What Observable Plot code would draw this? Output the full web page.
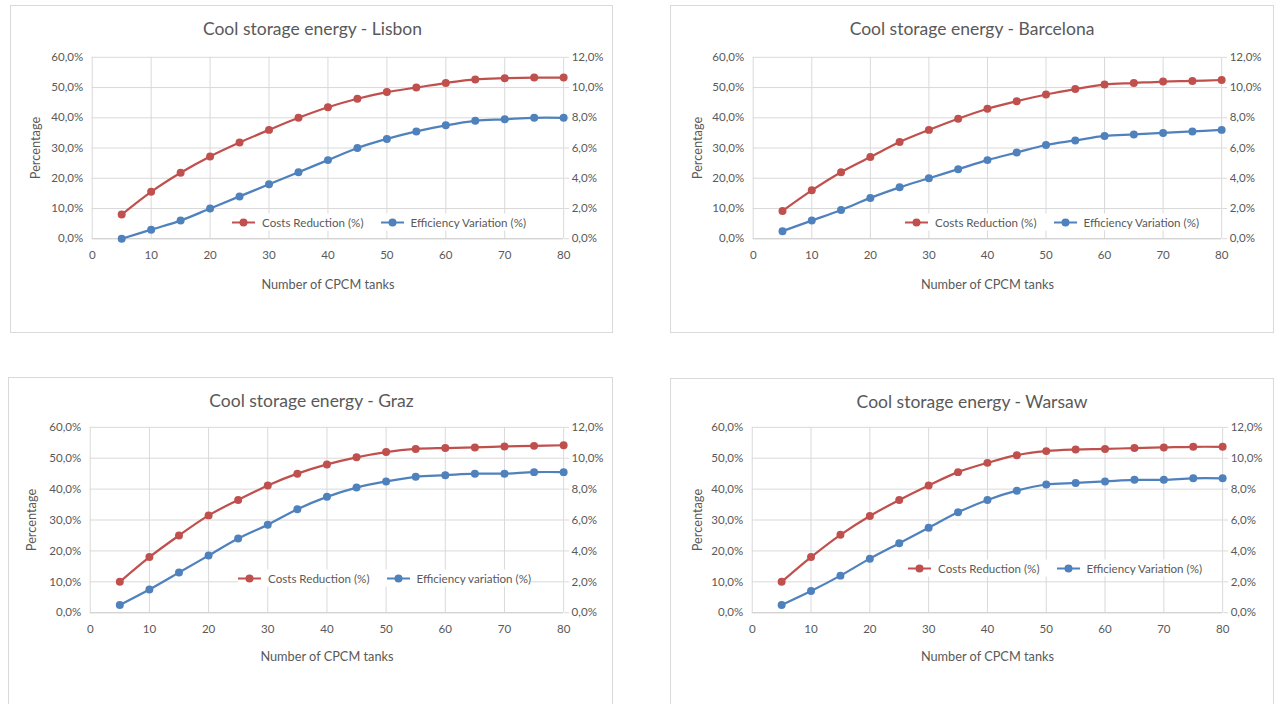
<!DOCTYPE html>
<html>
<head>
<meta charset="utf-8">
<script src="https://cdn.jsdelivr.net/npm/d3@7"></script>
<script src="https://cdn.jsdelivr.net/npm/@observablehq/plot@0.6"></script>
<style>
  body { margin: 0; background: #fff; font-family: Lato, "Open Sans", sans-serif; }
  #root { position: relative; width: 1275px; height: 704px; overflow: hidden; background: #fff; }
  .panel { position: absolute; border: 1px solid #d9d9d9; box-sizing: border-box; background: #fff; }
  .panel svg { position: absolute; left: -1px; top: -1px; overflow: visible; }
  .title { position: absolute; font-size: 17.5px; color: #595959; white-space: nowrap; transform: translate(-50%, -50%); }
  .legend { position: absolute; display: flex; align-items: center; background: #fff; transform: translateY(-50%);
            font-size: 11.6px; color: #595959; white-space: nowrap; padding: 2px 0; }
  .legend .item { display: flex; align-items: center; margin-right: 17px; }
  .legend .item:last-child { margin-right: 0; }
  .legend svg { margin-right: 7px; }
</style>
</head>
<body>
<div id="root"></div>
<script>
// ---- data ----
const tanks = [5, 10, 15, 20, 25, 30, 35, 40, 45, 50, 55, 60, 65, 70, 75, 80];
const xTicks = [0, 10, 20, 30, 40, 50, 60, 70, 80];
const yTicksLeft = [0, 10, 20, 30, 40, 50, 60];        // Percentage (%) left axis
const yTicksRight = [0, 2, 4, 6, 8, 10, 12];           // Efficiency (%) right axis

const lisbonCost = [8.0, 15.5, 21.8, 27.2, 31.8, 36.0, 40.0, 43.5, 46.3, 48.5, 50.0, 51.5, 52.7, 53.1, 53.3, 53.3];
const lisbonEff  = [0.0, 0.6, 1.2, 2.0, 2.8, 3.6, 4.4, 5.2, 6.0, 6.6, 7.1, 7.5, 7.8, 7.9, 8.0, 8.0];

const barcelonaCost = [9.2, 16.0, 22.0, 27.0, 32.0, 36.0, 39.7, 43.0, 45.5, 47.7, 49.5, 51.0, 51.5, 52.0, 52.2, 52.5];
const barcelonaEff  = [0.5, 1.2, 1.9, 2.7, 3.4, 4.0, 4.6, 5.2, 5.7, 6.2, 6.5, 6.8, 6.9, 7.0, 7.1, 7.2];

const grazCost = [10.0, 18.0, 25.0, 31.5, 36.5, 41.2, 45.0, 48.0, 50.3, 52.0, 53.0, 53.3, 53.5, 53.8, 54.0, 54.2];
const grazEff  = [0.5, 1.5, 2.6, 3.7, 4.8, 5.7, 6.7, 7.5, 8.1, 8.5, 8.8, 8.9, 9.0, 9.0, 9.1, 9.1];

const warsawCost = [10.0, 18.0, 25.2, 31.3, 36.5, 41.2, 45.5, 48.5, 51.0, 52.3, 52.8, 53.0, 53.3, 53.5, 53.7, 53.7];
const warsawEff  = [0.5, 1.4, 2.4, 3.5, 4.5, 5.5, 6.5, 7.3, 7.9, 8.3, 8.4, 8.5, 8.6, 8.6, 8.7, 8.7];

const costLabel = "Costs Reduction (%)";
const effLabels = ["Efficiency Variation (%)", "Efficiency Variation (%)", "Efficiency variation (%)", "Efficiency Variation (%)"];
const cities = ["Lisbon", "Barcelona", "Graz", "Warsaw"];
const xLabel = "Number of CPCM tanks";
const yLabel = "Percentage";

// ---- layout (not data) ----
const RED = "#c0504d", BLUE = "#4f81bd", GRID = "#d9d9d9", TEXT = "#595959";
const RATIO = 5; // right axis (0–12%) mapped onto left axis (0–60%)

const panels = [
  { cost: lisbonCost, eff: lisbonEff, left: 10, top: 5, w: 603, h: 328, ml: 82, mr: 48, mt: 52, mb: 94, yl: -57, xl: 50, legX: 232, legY: 222 },
  { cost: barcelonaCost, eff: barcelonaEff, left: 670, top: 5, w: 604, h: 328, ml: 83, mr: 51, mt: 52, mb: 94, yl: -56, xl: 50, legX: 905, legY: 222 },
  { cost: grazCost, eff: grazEff, left: 8, top: 377, w: 605, h: 332, ml: 82, mr: 48, mt: 50, mb: 96, yl: -59, xl: 48, legX: 238, legY: 578 },
  { cost: warsawCost, eff: warsawEff, left: 670, top: 378, w: 604, h: 331, ml: 82, mr: 50, mt: 49, mb: 96, yl: -55, xl: 48, legX: 908, legY: 568 }
];

const fmt = v => v.toFixed(1).replace(".", ",") + "%";

function legendSwatch(color) {
  return `<svg width="23" height="10"><line x1="0" y1="5" x2="23" y2="5" stroke="${color}" stroke-width="2"/><circle cx="11.5" cy="5" r="4" fill="${color}"/></svg>`;
}

const root = document.getElementById("root");

panels.forEach((p, k) => {
  const rows = tanks.map((t, i) => ({ t, cost: p.cost[i], eff: p.eff[i] }));
  const div = document.createElement("div");
  div.className = "panel";
  Object.assign(div.style, { left: p.left + "px", top: p.top + "px", width: p.w + "px", height: p.h + "px" });

  const chart = Plot.plot({
    width: p.w, height: p.h,
    marginLeft: p.ml, marginRight: p.mr, marginTop: p.mt, marginBottom: p.mb,
    style: { fontFamily: "Lato, 'Open Sans', sans-serif", fontSize: "11.6px", color: TEXT, background: "transparent" },
    x: { domain: [0, 80] },
    y: { domain: [0, 60] },
    marks: [
      Plot.gridX(xTicks, { stroke: GRID, strokeOpacity: 1, strokeWidth: 1 }),
      Plot.gridY(yTicksLeft, { stroke: GRID, strokeOpacity: 1, strokeWidth: 1 }),
      Plot.ruleY([0], { stroke: "#cfcfcf", strokeWidth: 1 }),
      Plot.axisX(xTicks, { tickSize: 0, tickPadding: 12, tickFormat: d => String(d), fill: TEXT, label: null }),
      Plot.axisY(yTicksLeft, { anchor: "left", tickSize: 0, tickPadding: 9, tickFormat: fmt, fill: TEXT, label: null }),
      Plot.axisY(yTicksRight.map(v => v * RATIO), { anchor: "right", tickSize: 5, tickPadding: 3, stroke: GRID, fill: TEXT,
        tickFormat: d => fmt(d / RATIO), label: null }),
      Plot.text([xLabel], { frameAnchor: "bottom", dy: p.xl, fill: TEXT, fontSize: 12.8 }),
      Plot.text([30], { y: d => d, text: () => yLabel, frameAnchor: "left", textAnchor: "middle", dx: p.yl, rotate: -90, fill: TEXT, fontSize: 12.8 }),
      Plot.line(rows, { x: "t", y: "cost", stroke: RED, strokeWidth: 2.25, curve: "catmull-rom" }),
      Plot.dot(rows, { x: "t", y: "cost", fill: RED, r: 4 }),
      Plot.line(rows, { x: "t", y: d => d.eff * RATIO, stroke: BLUE, strokeWidth: 2.25, curve: "catmull-rom" }),
      Plot.dot(rows, { x: "t", y: d => d.eff * RATIO, fill: BLUE, r: 4 })
    ]
  });
  div.appendChild(chart);

  const title = document.createElement("div");
  title.className = "title";
  title.textContent = "Cool storage energy - " + cities[k];
  const plotCenter = p.ml + (p.w - p.ml - p.mr) / 2;
  title.style.left = (plotCenter - 17) + "px";
  title.style.top = "22px";
  div.appendChild(title);
  root.appendChild(div);

  const leg = document.createElement("div");
  leg.className = "legend";
  leg.style.left = p.legX + "px";
  leg.style.top = p.legY + "px";
  leg.innerHTML = `<div class="item">${legendSwatch(RED)}<span>${costLabel}</span></div>` +
                  `<div class="item">${legendSwatch(BLUE)}<span>${effLabels[k]}</span></div>`;
  root.appendChild(leg);
});
</script>
</body>
</html>
